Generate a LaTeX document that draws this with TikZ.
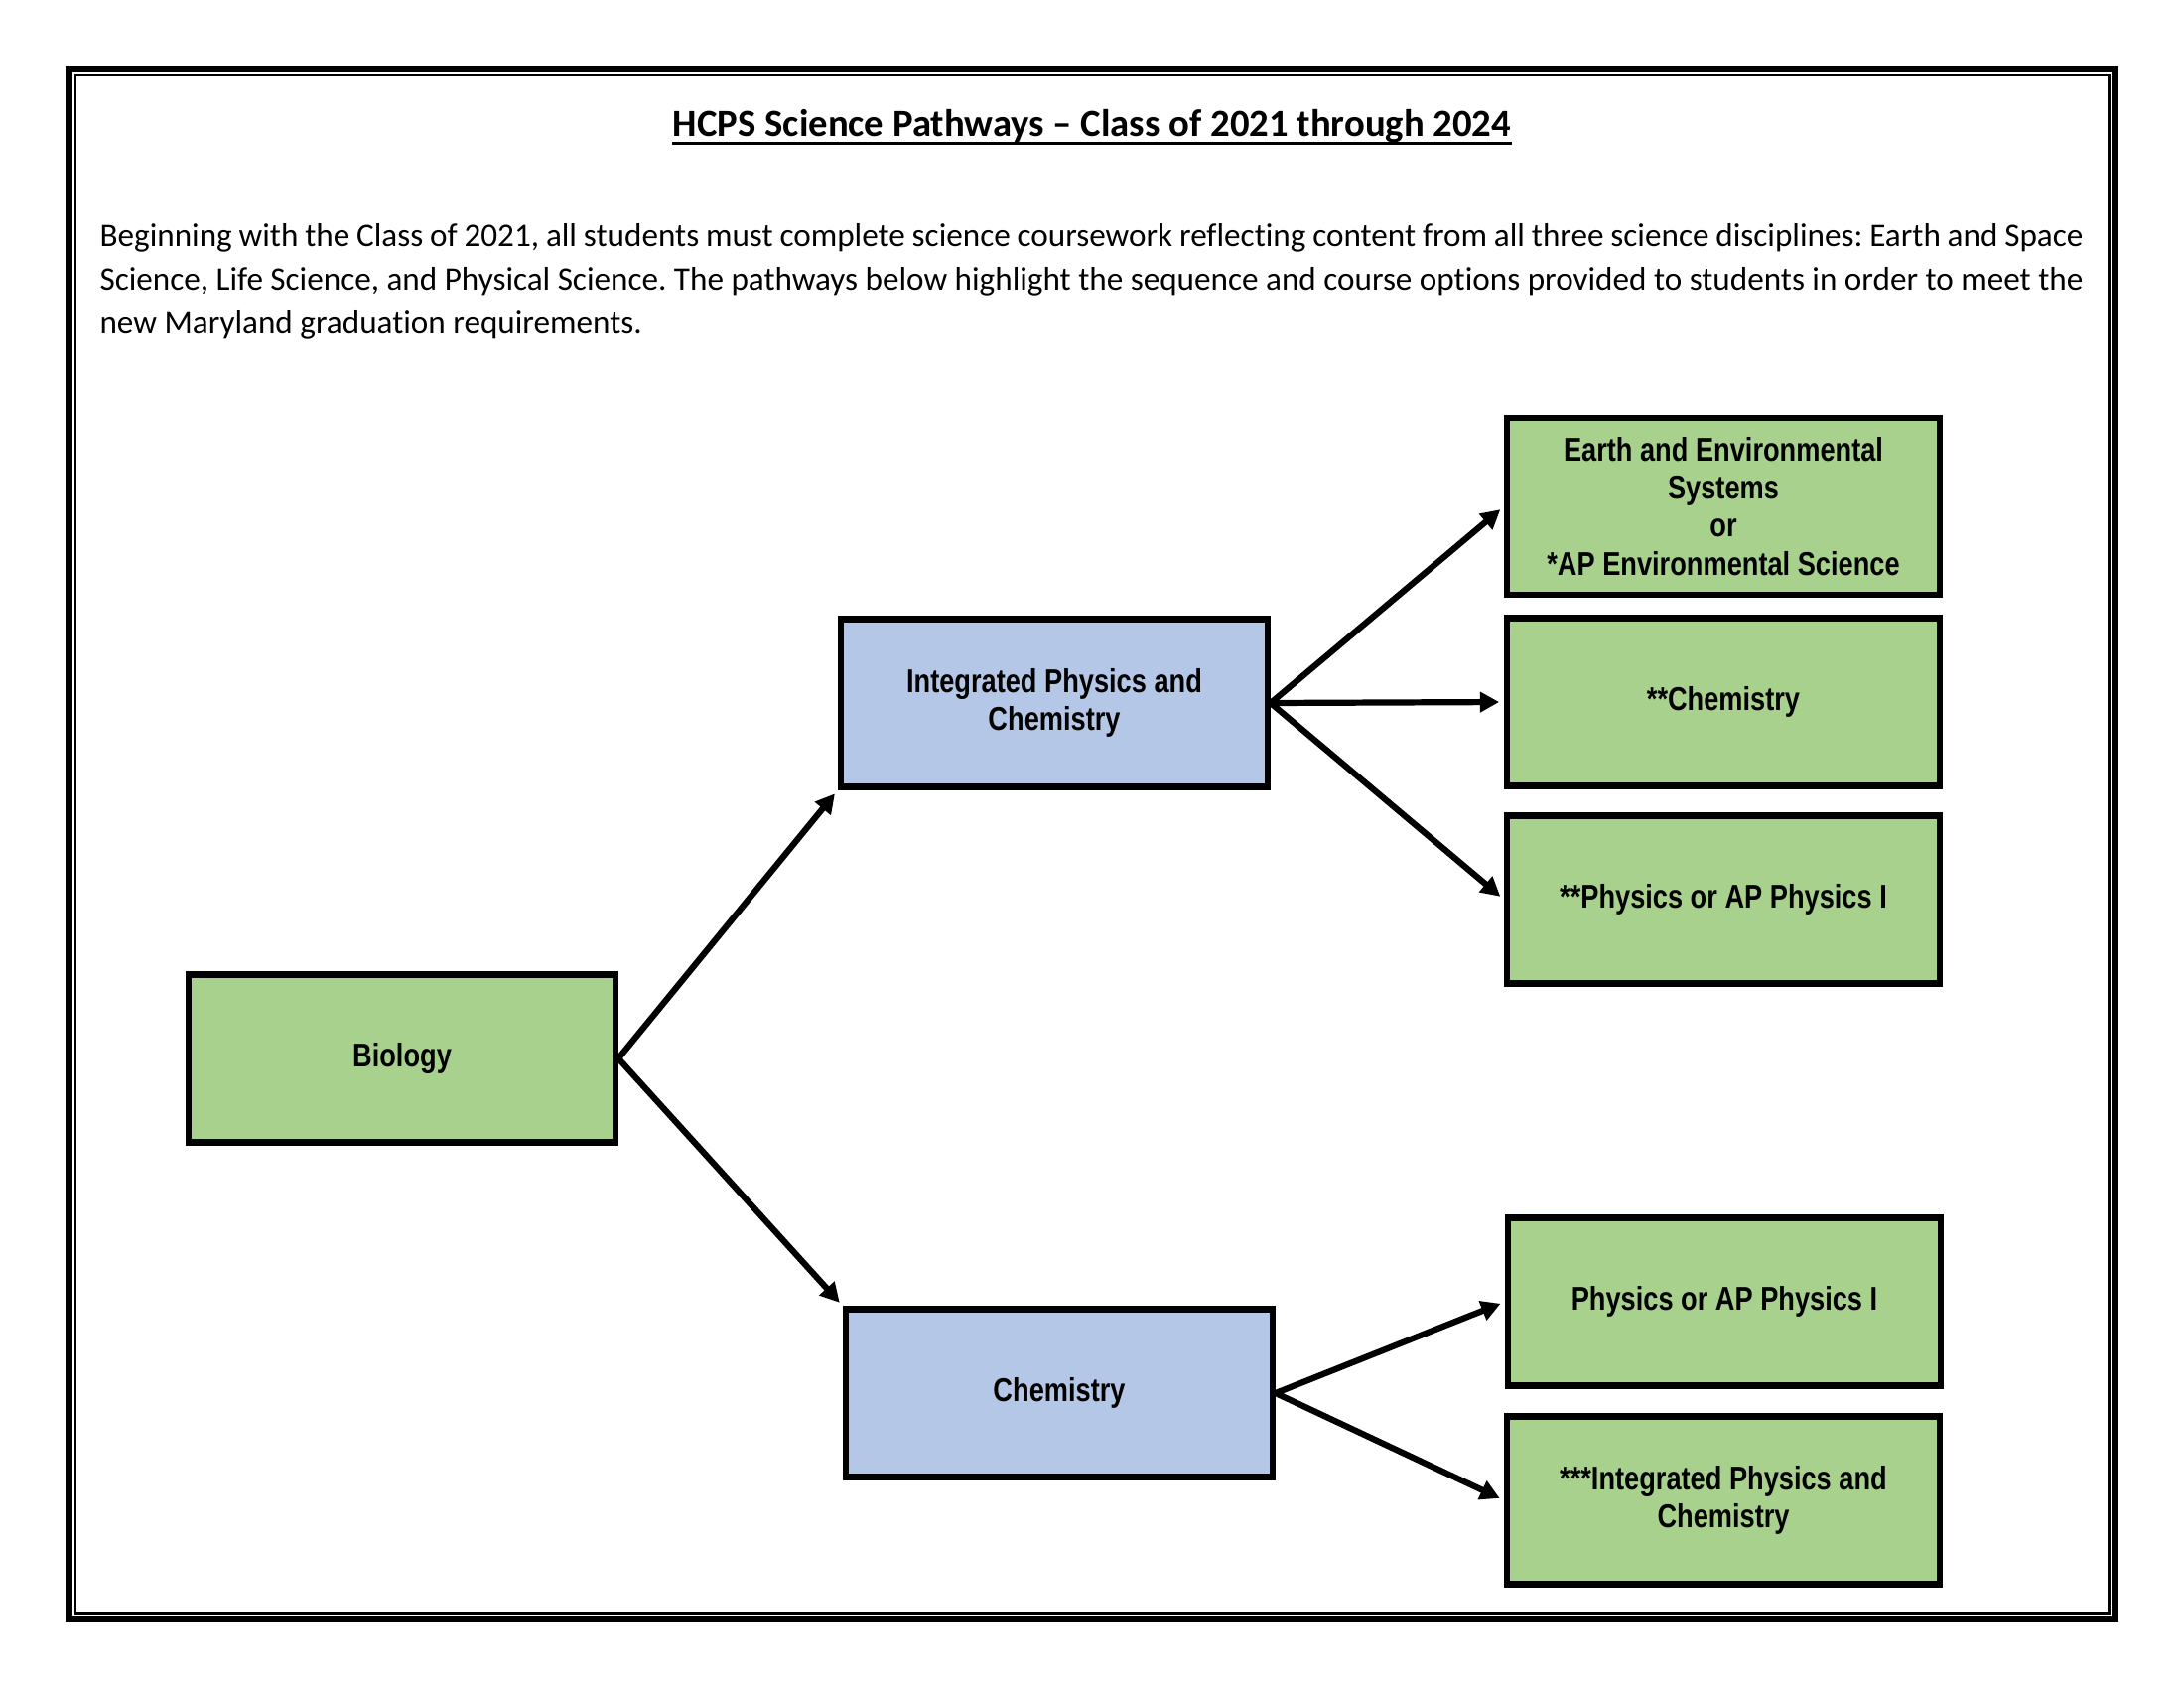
\documentclass[tikz,border=0pt]{standalone}
\usepackage{fontspec}
\setmainfont{Carlito}[Ligatures=NoCommon]
\newfontfamily\narrowfont[FakeStretch=0.82]{Liberation Sans}
\usetikzlibrary{arrows.meta}
\definecolor{course green}{HTML}{A9D18E}
\definecolor{course blue}{HTML}{B4C7E7}
\frenchspacing

\begin{document}
    \begin{tikzpicture}[x=0.005in,y=-0.005in,
            course box/.style={shape=rectangle,draw,line width=2.25pt,align=center,
                font=\narrowfont\bfseries\fontsize{12}{13.8}\selectfont,minimum height=0.845in},
            first year/.style={course box,minimum width=2.15in},
            next year/.style={course box,fill=course green,minimum width=2.18in},
            pathway arrow/.style={line width=2.25pt,-{Triangle[length=7pt,width=7.2pt]},shorten >=1.8pt}]
        \useasboundingbox (0,0) rectangle (2200,1700);
        \draw[line width=2.2pt] (69.5,69.5) rectangle (2130.5,1630.5);
        \draw[line width=0.9pt] (76,76) rectangle (2124.5,1624.5);

        \node (Title) [anchor=base,inner sep=0pt,font=\bfseries\fontsize{14}{17}\selectfont] at (1100,138)
            {HCPS Science Pathways – Class of 2021 through 2024};
        \draw[line width=1.1pt] ([yshift=-2.2pt]Title.base west) -- ([yshift=-2.2pt]Title.base east);

        \node (Intro) [anchor=north west,inner sep=0pt,text width=10in,align=justify,
            font=\fontsize{12}{15.8}\selectfont] at (100,225) {
            Beginning with the Class of 2021, all students must complete science coursework reflecting content from all three science disciplines: Earth and Space\linebreak
            Science, Life Science, and Physical Science. The pathways below highlight the sequence and course options provided to students in order to meet the\linebreak
            new Maryland graduation requirements.
        };

        \node (Biology) [first year,fill=course green] at (405,1066) {Biology};
        \node (Integrated Physics) [first year,fill=course blue] at (1062,708) {Integrated Physics and\\Chemistry};
        \node (Chemistry) [first year,fill=course blue] at (1067,1403) {Chemistry};

        \node (Earth Systems) [next year,minimum height=0.89in] at (1736,510)
            {Earth and Environmental\\Systems\\or\\*AP Environmental Science};
        \node (Chemistry Option) [next year] at (1736,707) {**Chemistry};
        \node (Physics Option) [next year] at (1736,906) {**Physics or AP Physics I};
        \node (Physics) [next year] at (1737,1311) {Physics or AP Physics I};
        \node (Integrated Option) [next year] at (1736,1511) {***Integrated Physics and\\Chemistry};

        \draw[pathway arrow] (Biology.east) -- (Integrated Physics.south west);
        \draw[pathway arrow] (Biology.east) -- (Chemistry.north west);
        \draw[pathway arrow] (Integrated Physics.east) -- (Earth Systems.west);
        \draw[pathway arrow] (Integrated Physics.east) -- (Chemistry Option.west);
        \draw[pathway arrow] (Integrated Physics.east) -- (Physics Option.west);
        \draw[pathway arrow] (Chemistry.east) -- (Physics.west);
        \draw[pathway arrow] (Chemistry.east) -- (Integrated Option.west);
    \end{tikzpicture}
\end{document}
